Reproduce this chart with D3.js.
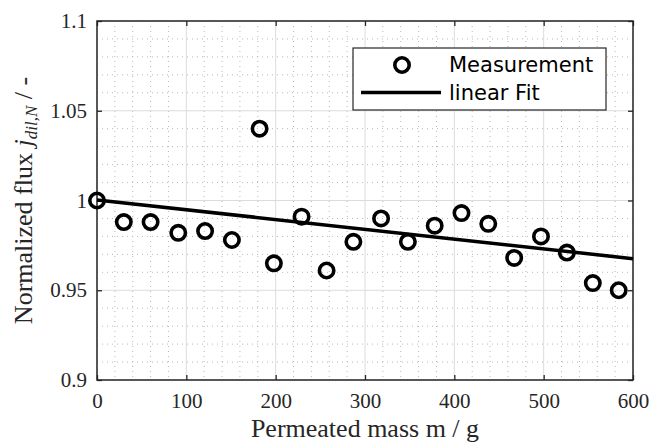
<!DOCTYPE html>
<html><head><meta charset="utf-8">
<script src="https://cdn.jsdelivr.net/npm/d3@7"></script>
<style>body{margin:0;background:#fff;}svg{display:block;}</style>
</head><body>
<script>
const massValues = [0, 30, 60, 91, 121, 151, 182, 198, 229, 257, 287, 318, 348, 378, 408, 438, 467, 497, 526, 555, 584];
const fluxValues = [1.000, 0.988, 0.988, 0.982, 0.983, 0.978, 1.040, 0.965, 0.991, 0.961, 0.977, 0.990, 0.977, 0.986, 0.993, 0.987, 0.968, 0.980, 0.971, 0.954, 0.950];
const fitX = [0, 600];
const fitY = [1.0003, 0.9676];
const xTicks = [0, 100, 200, 300, 400, 500, 600];
const yTicks = [0.9, 0.95, 1, 1.05, 1.1];
const yTickLabels = ["0.9", "0.95", "1", "1.05", "1.1"];
const legendLabels = ["Measurement", "linear Fit"];

const W = 662, H = 443;
const SERIF = '"Liberation Serif", "Times New Roman", serif';
const SANS = '"DejaVu Sans", sans-serif';
const m = {left: 97, right: 633, top: 21, bottom: 380};
const svg = d3.select("body").append("svg").attr("width", W).attr("height", H);
const x = d3.scaleLinear().domain([0, 600]).range([m.left, m.right]);
const y = d3.scaleLinear().domain([0.9, 1.1]).range([m.bottom, m.top]);

// minor grid
const xMinor = d3.range(0, 601, 20).filter(v => v % 100 !== 0);
const yMinor = d3.range(0, 21).map(i => 0.9 + i * 0.01).filter((v, i) => i % 5 !== 0);
const g = svg.append("g");
g.selectAll(".mx").data(xMinor).join("line")
  .attr("x1", d => x(d)).attr("x2", d => x(d)).attr("y1", m.top).attr("y2", m.bottom)
  .attr("stroke", "#b8b8b8").attr("stroke-width", 1).attr("stroke-dasharray", "1,4");
g.selectAll(".my").data(yMinor).join("line")
  .attr("y1", d => y(d)).attr("y2", d => y(d)).attr("x1", m.left).attr("x2", m.right)
  .attr("stroke", "#b8b8b8").attr("stroke-width", 1).attr("stroke-dasharray", "1,4");
// major grid
g.selectAll(".Mx").data(xTicks).join("line")
  .attr("x1", d => x(d)).attr("x2", d => x(d)).attr("y1", m.top).attr("y2", m.bottom)
  .attr("stroke", "#dcdcdc").attr("stroke-width", 1);
g.selectAll(".My").data(yTicks).join("line")
  .attr("y1", d => y(d)).attr("y2", d => y(d)).attr("x1", m.left).attr("x2", m.right)
  .attr("stroke", "#dcdcdc").attr("stroke-width", 1);

// axes
const xAxis = svg.append("g").attr("transform", `translate(0,${m.bottom})`)
  .call(d3.axisBottom(x).tickValues(xTicks).tickSizeInner(-5).tickSizeOuter(0).tickPadding(13).tickFormat(d3.format("d")));
const xAxisTop = svg.append("g").attr("transform", `translate(0,${m.top})`)
  .call(d3.axisTop(x).tickValues(xTicks).tickSizeInner(-5).tickSizeOuter(0).tickFormat(""));
const yAxis = svg.append("g").attr("transform", `translate(${m.left},0)`)
  .call(d3.axisLeft(y).tickValues(yTicks).tickSizeInner(-5).tickSizeOuter(0).tickPadding(10).tickFormat((d, i) => yTickLabels[i]));
const yAxisR = svg.append("g").attr("transform", `translate(${m.right},0)`)
  .call(d3.axisRight(y).tickValues(yTicks).tickSizeInner(-5).tickSizeOuter(0).tickFormat(""));
[xAxis, xAxisTop, yAxis, yAxisR].forEach(a => {
  a.attr("font-family", SERIF).attr("font-size", 21);
  a.select(".domain").remove();
  a.selectAll(".tick line").attr("stroke", "#262626").attr("stroke-width", 1.3);
  a.selectAll("text").style("font-family", SERIF).style("font-size", "21px").attr("fill", "#262626");
});
svg.append("rect").attr("x", m.left).attr("y", m.top).attr("width", m.right - m.left).attr("height", m.bottom - m.top)
  .attr("fill", "none").attr("stroke", "#262626").attr("stroke-width", 1.5);

// fit line
const line = d3.line().x(d => x(d[0])).y(d => y(d[1]));
svg.append("path").datum(fitX.map((v, i) => [v, fitY[i]])).attr("d", line)
  .attr("fill", "none").attr("stroke", "#000").attr("stroke-width", 3.5);

// points
svg.selectAll(".pt").data(massValues.map((v, i) => [v, fluxValues[i]])).join("circle")
  .attr("cx", d => x(d[0])).attr("cy", d => y(d[1])).attr("r", 7.2)
  .attr("fill", "none").attr("stroke", "#000").attr("stroke-width", 3.6);

// labels
svg.append("text").attr("x", (m.left + m.right) / 2).attr("y", 437).attr("text-anchor", "middle")
  .style("font-family", SERIF).style("font-size", "26px").attr("fill", "#262626").text("Permeated mass m / g");
const yl = svg.append("text").attr("transform", `translate(32,${(m.top + m.bottom) / 2}) rotate(-90)`)
  .attr("text-anchor", "middle").style("font-family", SERIF).style("font-size", "26px").attr("fill", "#262626");
yl.append("tspan").text("Normalized flux ");
yl.append("tspan").attr("font-style", "italic").text("j");
yl.append("tspan").attr("font-style", "italic").style("font-size", "17px").attr("dy", 5).text("dil,N");
yl.append("tspan").attr("dy", -5).text(" / -");

// legend
const lg = svg.append("g");
lg.append("rect").attr("x", 353).attr("y", 48).attr("width", 253).attr("height", 62)
  .attr("fill", "#fff").attr("stroke", "#262626").attr("stroke-width", 1.2);
lg.append("circle").attr("cx", 402).attr("cy", 65).attr("r", 7.2).attr("fill", "none").attr("stroke", "#000").attr("stroke-width", 3.6);
lg.append("line").attr("x1", 361).attr("x2", 441).attr("y1", 92.5).attr("y2", 92.5).attr("stroke", "#000").attr("stroke-width", 3.5);
lg.selectAll(".lt").data(legendLabels).join("text")
  .attr("x", 449).attr("y", (d, i) => 72 + i * 27.5)
  .style("font-family", SANS).style("font-size", "21px").attr("fill", "#000").text(d => d);
</script>
</body></html>
